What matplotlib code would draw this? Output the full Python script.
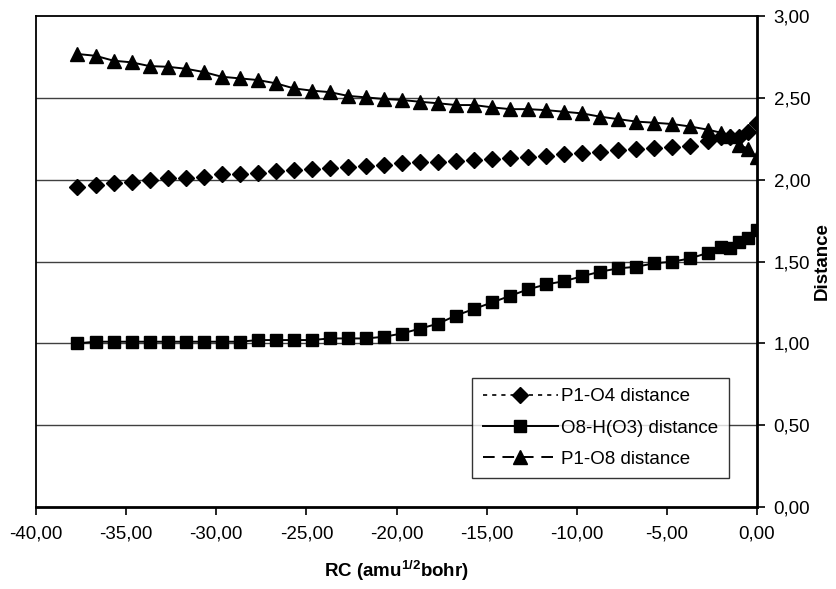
import matplotlib
matplotlib.use("Agg")
import matplotlib.pyplot as plt
from matplotlib.lines import Line2D
from matplotlib.ticker import FuncFormatter, MultipleLocator

plt.rcParams['font.family'] = ['Liberation Sans', 'DejaVu Sans']
plt.rcParams['mathtext.fontset'] = 'custom'
plt.rcParams['mathtext.rm'] = 'Liberation Sans'
plt.rcParams['mathtext.bf'] = 'Liberation Sans:bold'

# Coordenada de reacao
rc = [-37.7, -36.7, -35.7, -34.7, -33.7, -32.7, -31.7, -30.7, -29.7, -28.7,
      -27.7, -26.7, -25.7, -24.7, -23.7, -22.7, -21.7, -20.7, -19.7, -18.7,
      -17.7, -16.7, -15.7, -14.7, -13.7, -12.7, -11.7, -10.7, -9.7, -8.7,
      -7.7, -6.7, -5.7, -4.7, -3.7, -2.7, -2.0, -1.5, -1.0, -0.5, 0.0]

# P1-O4
p1_o4 = [1.957, 1.967, 1.978, 1.988, 1.998, 2.008, 2.008, 2.018, 2.035, 2.035,
         2.043, 2.053, 2.059, 2.065, 2.070, 2.080, 2.085, 2.090, 2.100, 2.105,
         2.110, 2.115, 2.120, 2.125, 2.130, 2.140, 2.145, 2.155, 2.165, 2.171,
         2.181, 2.187, 2.192, 2.201, 2.208, 2.236, 2.259, 2.259, 2.262, 2.293,
         2.344]

# O8-H(O3)
o8_h = [1.000, 1.010, 1.010, 1.010, 1.010, 1.010, 1.010, 1.010, 1.010, 1.010,
        1.020, 1.020, 1.020, 1.020, 1.030, 1.030, 1.030, 1.040, 1.060, 1.090,
        1.120, 1.170, 1.210, 1.250, 1.290, 1.330, 1.360, 1.380, 1.410, 1.438,
        1.458, 1.468, 1.489, 1.499, 1.519, 1.554, 1.590, 1.581, 1.621, 1.642,
        1.692]

# P1-O8
p1_o8 = [2.768, 2.757, 2.727, 2.717, 2.694, 2.690, 2.678, 2.658, 2.629, 2.619,
         2.609, 2.589, 2.558, 2.544, 2.535, 2.512, 2.503, 2.493, 2.487, 2.476,
         2.467, 2.456, 2.456, 2.442, 2.431, 2.431, 2.425, 2.415, 2.405, 2.385,
         2.370, 2.355, 2.348, 2.340, 2.325, 2.305, 2.287, 2.267, 2.212, 2.190,
         2.137]

labels = ['P1-O4 distance', 'O8-H(O3) distance', 'P1-O8 distance']


def virgula(v, pos):
    return f"{v:.2f}".replace('.', ',')


fig = plt.figure(figsize=(8.36, 5.89), dpi=100)
ax = fig.add_axes([0.0431, 0.1392, 0.8624, 0.8336])

# Grade horizontal
for g in [0.5, 1.0, 1.5, 2.0, 2.5]:
    ax.axhline(g, color='#404040', lw=1.0, zorder=1)

ax.plot(rc, p1_o4, linestyle='none', marker='D', ms=8, color='black', zorder=3)
ax.plot(rc, o8_h, '-', lw=1.4, marker='s', ms=8.5, color='black', zorder=3)
ax.plot(rc, p1_o8, '-', lw=1.4, marker='^', ms=9.5, color='black', zorder=3)

ax.set_xlim(-40, 0)
ax.set_ylim(0, 3)
ax.xaxis.set_major_locator(MultipleLocator(5))
ax.yaxis.set_major_locator(MultipleLocator(0.5))
ax.xaxis.set_major_formatter(FuncFormatter(virgula))
ax.yaxis.set_major_formatter(FuncFormatter(virgula))
ax.yaxis.tick_right()
ax.yaxis.set_label_position('right')
ax.tick_params(axis='x', direction='out', length=6, width=1.2, labelsize=13.5, pad=7)
ax.tick_params(axis='y', direction='out', length=6, width=1.2, labelsize=13.5, pad=6)

for s in ['top', 'left']:
    ax.spines[s].set_linewidth(1.3)
for s in ['bottom', 'right']:
    ax.spines[s].set_linewidth(2.0)

ax.set_xlabel(r'RC (amu$\mathbf{^{1/2}}$bohr)', fontsize=13.5, fontweight='bold')
ax.xaxis.set_label_coords(0.5, -0.105)
ax.set_ylabel('Distance', fontsize=13.5, fontweight='bold')
ax.yaxis.set_label_coords(1.079, 0.5)

# Legenda (estilo das linhas como no original)
handles = [
    Line2D([], [], color='black', lw=1.2, linestyle=(0, (2.5, 3)), marker='D', ms=8),
    Line2D([], [], color='black', lw=1.4, linestyle='-', marker='s', ms=8.5),
    Line2D([], [], color='black', lw=1.4, linestyle=(0, (6, 4)), marker='^', ms=9.5),
]
leg = ax.legend(handles, labels, loc='lower left', bbox_to_anchor=(0.605, 0.059),
                fontsize=13.5, frameon=True, fancybox=False, edgecolor='black',
                handlelength=4.0, handletextpad=0.2, borderpad=0.55, labelspacing=0.75,
                borderaxespad=0)
leg.get_frame().set_linewidth(1.0)
leg.set_zorder(5)

fig.savefig('out.png', dpi=100)
